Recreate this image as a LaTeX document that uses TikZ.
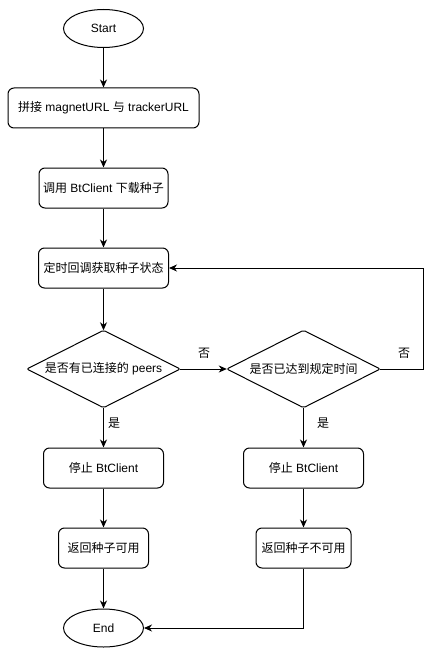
\documentclass[tikz,border=0pt]{standalone}
\usepackage{fontspec}
\setmainfont{Liberation Sans}
\newfontfamily\cjk{Noto Sans CJK SC}
\usetikzlibrary{shapes.geometric,arrows.meta}
\begin{document}
\begin{tikzpicture}[x=1pt,y=-1pt,
  every node/.style={font=\fontsize{12pt}{14pt}\selectfont, inner sep=0pt},
  procbox/.style={draw, line width=1pt, rounded corners=6pt, align=center},
  term/.style={draw, ellipse, line width=1pt, minimum width=80pt, minimum height=38pt},
  decision/.style={rectangle, minimum width=153pt, minimum height=77pt},
  rhomb/.style={draw, line width=1pt, rounded corners=2pt},
  flow/.style={draw, line width=1pt, -{Stealth[length=8pt,width=7pt,inset=2.5pt]}},
  lbl/.style={}]
\useasboundingbox (0,0) rectangle (441,658);
\fill[white] (0,0) rectangle (441,658);
\node[term] (start) at (103.5,28.5) {Start};
\node[procbox, minimum width=191pt, minimum height=40pt] (b1) at (103.5,108) {{\cjk 拼接} magnetURL {\cjk 与} trackerURL};
\node[procbox, minimum width=129pt, minimum height=40pt] (b2) at (103.5,188) {{\cjk 调用} BtClient {\cjk 下载种子}};
\node[procbox, minimum width=130pt, minimum height=40pt] (b3) at (103.5,268) {\cjk 定时回调获取种子状态};
\node[decision] (d1) at (103.5,369) {{\cjk 是否有已连接的} peers};
\node[decision] (d2) at (303.5,369) {\cjk 是否已达到规定时间};
\draw[rhomb] (d1.north) -- (d1.east) -- (d1.south) -- (d1.west) -- cycle;
\draw[rhomb] (d2.north) -- (d2.east) -- (d2.south) -- (d2.west) -- cycle;
\node[procbox, minimum width=120pt, minimum height=40pt] (s1) at (103.5,468) {{\cjk 停止} BtClient};
\node[procbox, minimum width=120pt, minimum height=40pt] (s2) at (303.5,468) {{\cjk 停止} BtClient};
\node[procbox, minimum width=90pt, minimum height=40pt] (r1) at (103.5,548) {\cjk 返回种子可用};
\node[procbox, minimum width=95pt, minimum height=40pt] (r2) at (303.5,548) {\cjk 返回种子不可用};
\node[term] (end) at (103.5,628) {End};
\coordinate (loopc) at (423,369);
\draw[flow] (start) -- (b1);
\draw[flow] (b1) -- (b2);
\draw[flow] (b2) -- (b3);
\draw[flow] (b3.south) -- (d1.north);
\draw[flow] (d1.east) -- (d2.west);
\draw[flow] (d2.east) -- (loopc) |- (b3.east);
\draw[flow] (d1.south) -- (s1.north);
\draw[flow] (d2.south) -- (s2.north);
\draw[flow] (s1) -- (r1);
\draw[flow] (s2) -- (r2);
\draw[flow] (r1) -- (end);
\draw[flow] (r2.south) |- (end.east);
\node[lbl] (n1) at (204,353) {\cjk 否};
\node[lbl] (n2) at (404,353) {\cjk 否};
\node[lbl] (y1) at (114,423) {\cjk 是};
\node[lbl] (y2) at (323,423) {\cjk 是};
\end{tikzpicture}
\end{document}
